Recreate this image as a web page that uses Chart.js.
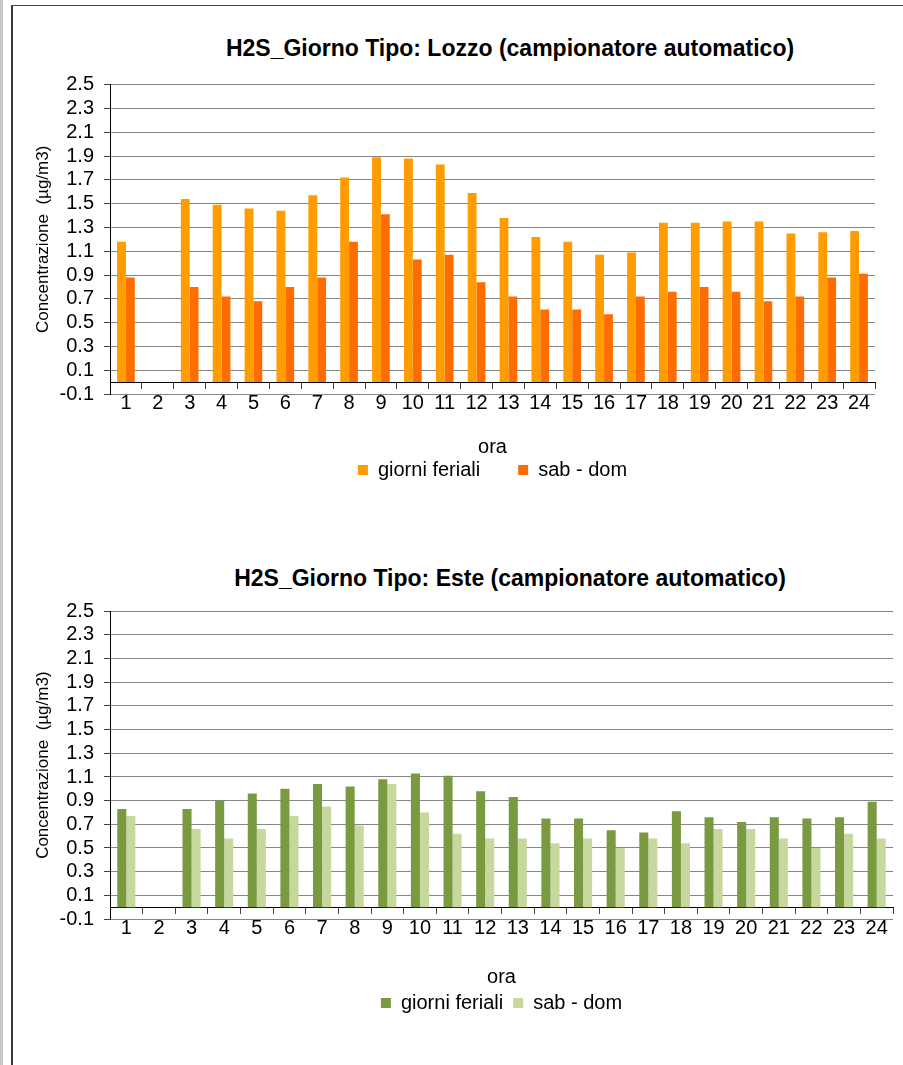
<!DOCTYPE html>
<html>
<head>
<meta charset="utf-8">
<script src="https://cdn.jsdelivr.net/npm/chart.js@4.4.1/dist/chart.umd.min.js"></script>
<style>
  html, body {
    margin: 0;
    padding: 0;
    background: #fff;
  }
  body {
    position: relative;
    width: 903px;
    height: 1065px;
    overflow: hidden;
    font-family: "Liberation Sans", Arial, sans-serif;
  }
  .strip {
    position: absolute;
    left: 0; top: 0;
    width: 3px; height: 100%;
    background: #c8c8c8;
  }
  .frame {
    position: absolute;
    left: 11px; top: 5px;
    width: 920px; height: 1100px;
    border-left: 2px solid #3a3a3a;
    border-top: 1px solid #4a4a4a;
  }
  .title {
    position: absolute;
    left: 120px;
    width: 780px;
    text-align: center;
    font-weight: bold;
    font-size: 23px;
    line-height: 26px;
    color: #000;
    white-space: nowrap;
  }
  canvas {
    position: absolute;
    left: 13px;
  }
</style>
</head>
<body>
<div class="strip"></div>
<div class="frame"></div>

<div class="title" id="titleLozzo" style="top:35px"></div>
<canvas id="chartLozzo" width="890" height="494" style="top:6px"></canvas>

<div class="title" id="titleEste" style="top:565px"></div>
<canvas id="chartEste" width="890" height="529" style="top:536px"></canvas>

<script>
  "use strict";

  // ---------------------------------------------------------
  // Data
  // ---------------------------------------------------------

  const HOURS = ["1", "2", "3", "4", "5", "6", "7", "8", "9", "10", "11", "12",
                 "13", "14", "15", "16", "17", "18", "19", "20", "21", "22", "23", "24"];

  const Y_TICKS = [-0.1, 0.1, 0.3, 0.5, 0.7, 0.9, 1.1, 1.3, 1.5, 1.7, 1.9, 2.1, 2.3, 2.5];

  const SERIES_NAMES = ["giorni feriali", "sab - dom"];

  const TITLE_LOZZO = "H2S_Giorno Tipo: Lozzo (campionatore automatico)";
  const TITLE_ESTE = "H2S_Giorno Tipo: Este (campionatore automatico)";
  const Y_TITLE = "Concentrazione  (µg/m3)";
  const X_TITLE = "ora";

  const LOZZO_FERIALI = [1.18, null, 1.54, 1.49, 1.46, 1.44, 1.57, 1.72, 1.89, 1.88, 1.83, 1.59,
                         1.38, 1.22, 1.18, 1.07, 1.09, 1.34, 1.34, 1.35, 1.35, 1.25, 1.26, 1.27];
  const LOZZO_SABDOM  = [0.88, null, 0.80, 0.72, 0.68, 0.80, 0.88, 1.18, 1.41, 1.03, 1.07, 0.84,
                         0.72, 0.61, 0.61, 0.57, 0.72, 0.76, 0.80, 0.76, 0.68, 0.72, 0.88, 0.91];

  const ESTE_FERIALI  = [0.83, null, 0.83, 0.90, 0.96, 1.00, 1.04, 1.02, 1.08, 1.13, 1.11, 0.98,
                         0.93, 0.75, 0.75, 0.65, 0.63, 0.81, 0.76, 0.72, 0.76, 0.75, 0.76, 0.89];
  const ESTE_SABDOM   = [0.77, null, 0.66, 0.58, 0.66, 0.77, 0.85, 0.69, 1.04, 0.80, 0.62, 0.58,
                         0.58, 0.54, 0.58, 0.50, 0.58, 0.54, 0.66, 0.66, 0.58, 0.50, 0.62, 0.58];

  const FONT = "'Liberation Sans', Arial, sans-serif";

  // ---------------------------------------------------------
  // Chart builder
  // ---------------------------------------------------------

  function makeChart(id, feriali, sabdom, colors, opts) {
    const ctx = document.getElementById(id).getContext("2d");

    return new Chart(ctx, {
      type: "bar",
      data: {
        labels: HOURS,
        datasets: [
          {
            label: SERIES_NAMES[0],
            data: feriali,
            backgroundColor: colors[0],
            borderWidth: 0,
            categoryPercentage: 0.555,
            barPercentage: 1
          },
          {
            label: SERIES_NAMES[1],
            data: sabdom,
            backgroundColor: colors[1],
            borderWidth: 0,
            categoryPercentage: 0.555,
            barPercentage: 1
          }
        ]
      },
      options: {
        responsive: false,
        animation: false,
        devicePixelRatio: 1,
        layout: { padding: opts.padding },
        scales: {
          x: {
            position: { y: 0 },
            offset: true,
            grid: {
              offset: true,
              drawOnChartArea: false,
              drawTicks: true,
              tickLength: 6,
              tickColor: "#404040"
            },
            border: { display: true, color: "#000", width: 1 },
            ticks: {
              color: "#000",
              font: { family: FONT, size: 20 },
              padding: 3,
              maxRotation: 0,
              autoSkip: false
            },
            afterFit: scale => { scale.height = 0; }
          },
          y: {
            min: -0.1,
            max: 2.5,
            afterBuildTicks: scale => {
              scale.ticks = Y_TICKS.map(v => ({ value: v }));
            },
            grid: {
              color: "#868686",
              lineWidth: 1,
              drawTicks: true,
              tickLength: 6,
              tickColor: "#404040"
            },
            border: { display: true, color: "#000", width: 1 },
            ticks: {
              color: "#000",
              font: { family: FONT, size: 20 },
              padding: 10,
              autoSkip: false,
              callback: v => Number(v).toFixed(1)
            },
            title: {
              display: true,
              text: Y_TITLE,
              color: "#000",
              font: { family: FONT, size: 17 },
              padding: { top: 0, bottom: 0 }
            },
            afterFit: scale => { scale.width = 77; }
          }
        },
        plugins: {
          title: { display: false },
          tooltip: { enabled: false },
          legend: {
            display: true,
            position: "bottom",
            fullSize: false,
            title: {
              display: true,
              text: X_TITLE,
              color: "#000",
              font: { family: FONT, size: 20 },
              padding: opts.legendTitlePadding
            },
            labels: {
              color: "#000",
              font: { family: FONT, size: 20 },
              boxWidth: 10,
              boxHeight: 10,
              padding: opts.legendPadding
            }
          }
        }
      }
    });
  }

  // ---------------------------------------------------------
  // Render
  // ---------------------------------------------------------

  document.getElementById("titleLozzo").textContent = TITLE_LOZZO;
  document.getElementById("titleEste").textContent = TITLE_ESTE;

  makeChart("chartLozzo", LOZZO_FERIALI, LOZZO_SABDOM, ["#FF9C00", "#FF6D00"], {
    padding: { top: 78.7, bottom: 10, left: 20, right: 28 },
    legendPadding: 38,
    legendTitlePadding: { top: 43, bottom: -39 }
  });

  makeChart("chartEste", ESTE_FERIALI, ESTE_SABDOM, ["#7A9A41", "#C6D89E"], {
    padding: { top: 75.3, bottom: 42, left: 20, right: 10 },
    legendPadding: 10,
    legendTitlePadding: { top: 48, bottom: -8 }
  });
</script>
</body>
</html>
